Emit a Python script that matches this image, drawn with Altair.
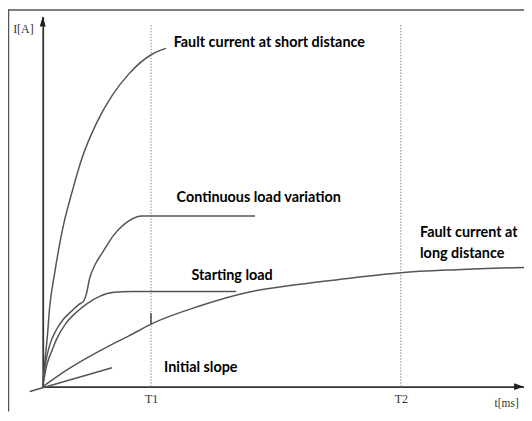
import altair as alt
import pandas as pd

# ---- data (x: time, y: current; arbitrary units 0-100) ----
short_x = [0, 0.4, 1.0, 1.4, 2.5, 4.1, 6.2, 8.2, 11.1, 14.4, 17.9, 22.7, 25.6]
short_y = [0, 6.2, 14.2, 20.9, 30.8, 42.4, 53.1, 61.9, 71.0, 78.6, 84.5, 89.8, 91.4]

cont_x = [0, 0.4, 1.4, 2.9, 4.3, 6.0, 7.6, 8.5, 9.1, 9.7, 10.9, 12.4, 14.8, 17.9, 20.6, 44.1]
cont_y = [0, 4.8, 11.0, 15.5, 18.2, 20.4, 22.3, 23.1, 25.2, 29.0, 33.0, 36.2, 41.0, 44.8, 46.1, 46.1]

start_x = [0, 0.8, 1.9, 2.9, 4.7, 7.0, 9.3, 11.8, 14.8, 18.6, 40.2]
start_y = [0, 5.6, 9.7, 12.9, 16.9, 20.1, 22.5, 24.4, 25.5, 25.7, 25.7]

long_x = [0, 3.5, 8.2, 13.8, 17.9, 22.5, 32.4, 42.7, 53.0, 63.3, 74.4, 86.0, 100]
long_y = [0, 3.2, 7.0, 11.0, 13.7, 16.9, 21.7, 25.5, 27.6, 29.2, 30.8, 31.6, 32.2]

slope_x = [-2.7, 14.4]
slope_y = [-1.3, 5.1]

t_values = [22.5, 74.4]
t_labels = ["T1", "T2"]
t_top = 98.1

mark_x = [22.5]
mark_y0 = [16.9]
mark_y1 = [19.8]

label_texts = ["Fault current at short distance", "Continuous load variation",
               "Starting load", "Fault current at", "long distance", "Initial slope"]
label_x = [27.2, 27.8, 30.9, 78.4, 78.4, 25.2]
label_y = [92.8, 50.9, 29.8, 41.6, 35.9, 5.1]

x_title = "t[ms]"
y_title = "I[A]"

X_MAX = 100
Y_MAX = 100

# ---- tables ----
rows = []
for name, xs, ys in [("short", short_x, short_y), ("cont", cont_x, cont_y),
                     ("start", start_x, start_y), ("long", long_x, long_y),
                     ("slope", slope_x, slope_y)]:
    for i, (a, b) in enumerate(zip(xs, ys)):
        rows.append({"series": name, "x": a, "y": b, "order": i})
curves = pd.DataFrame(rows)
tdf = pd.DataFrame({"t": t_values, "label": t_labels,
                    "bottom": [0] * len(t_values), "top": [t_top] * len(t_values)})
labels = pd.DataFrame({"x": label_x, "y": label_y, "text": label_texts})
marks = pd.DataFrame({"x": mark_x, "y0": mark_y0, "y1": mark_y1})
arrow_up_df = pd.DataFrame({"x": [0], "y": [Y_MAX]})
arrow_right_df = pd.DataFrame({"x": [X_MAX], "y": [0]})

xscale = alt.Scale(domain=[0, X_MAX], nice=False, zero=False)
yscale = alt.Scale(domain=[0, Y_MAX], nice=False, zero=False)

label_expr = "{" + ",".join(f"'{v}':'{l}'" for v, l in zip(t_values, t_labels)) + "}[''+datum.value]"

xaxis = alt.Axis(values=t_values, labelExpr=label_expr, grid=False, ticks=False, tickSize=0,
                 domainColor="#333", domainWidth=1.8, labelFont="Liberation Serif",
                 labelFontSize=12, labelColor="#333", labelPadding=7,
                 title=x_title, titleFont="Liberation Serif", titleFontSize=11.5,
                 titleFontWeight="normal", titleColor="#333", titleX=467, titleY=17,
                 titleAlign="center", titleBaseline="middle", titleAngle=0)
yaxis = alt.Axis(values=[0], grid=False, ticks=False, tickSize=0, labels=False,
                 domainColor="#333", domainWidth=1.8,
                 title=y_title, titleFont="Liberation Serif", titleFontSize=12,
                 titleFontWeight="normal", titleColor="#333", titleX=-20, titleY=12,
                 titleAlign="center", titleBaseline="middle", titleAngle=0)

lines = alt.Chart(curves).mark_line(color="#555", strokeWidth=1.5, interpolate="monotone").encode(
    x=alt.X("x:Q", scale=xscale, axis=xaxis),
    y=alt.Y("y:Q", scale=yscale, axis=yaxis),
    detail="series:N", order="order:Q")

tlines = alt.Chart(tdf).mark_rule(color="#888", strokeWidth=1, strokeDash=[1.5, 1.5]).encode(
    x=alt.X("t:Q", scale=xscale), y=alt.Y("bottom:Q", scale=yscale), y2="top:Q")

tick = alt.Chart(marks).mark_rule(color="#444", strokeWidth=1.5).encode(
    x=alt.X("x:Q", scale=xscale), y=alt.Y("y0:Q", scale=yscale), y2="y1:Q")

text = alt.Chart(labels).mark_text(align="left", baseline="middle", font="Lato",
                                   fontWeight="bold", fontSize=14.5, color="#000").encode(
    x=alt.X("x:Q", scale=xscale), y=alt.Y("y:Q", scale=yscale), text="text:N")

arrow_up = alt.Chart(arrow_up_df).mark_point(
    shape="M0,0L0.6,2L-0.6,2Z", size=100, filled=True, color="#222", opacity=1).encode(
    x=alt.X("x:Q", scale=xscale), y=alt.Y("y:Q", scale=yscale))
arrow_right = alt.Chart(arrow_right_df).mark_point(
    shape="M0,0L-2,-0.7L-2,0.7Z", size=100, filled=True, color="#222", opacity=1).encode(
    x=alt.X("x:Q", scale=xscale), y=alt.Y("y:Q", scale=yscale))

frame_left = alt.Chart(arrow_up_df).mark_rule(color="#555", strokeWidth=1.5).encode(
    x=alt.value(-34.5), y=alt.value(-7), y2=alt.value(398))
frame_top = alt.Chart(arrow_up_df).mark_rule(color="#555", strokeWidth=1.5).encode(
    x=alt.value(-35), x2=alt.value(485), y=alt.value(-6.5))

chart = alt.layer(tlines, lines, tick, text, arrow_up, arrow_right, frame_left, frame_top).properties(
    width=485, height=373,
    autosize=alt.AutoSizeParams(type="none"),
    padding={"left": 35, "top": 7, "right": 0, "bottom": 25},
    background="white",
).configure_view(strokeWidth=0)

chart.save("out.html", embed_options={"renderer": "svg", "actions": False})
